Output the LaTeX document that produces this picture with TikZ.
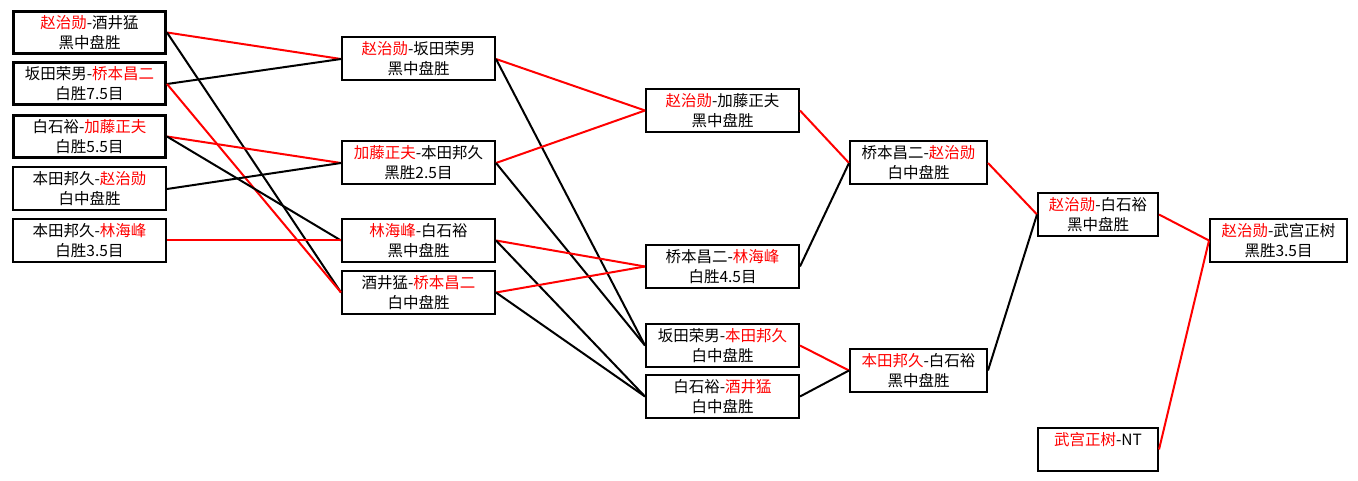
\documentclass[tikz,border=0pt]{standalone}
\usepackage{fontspec}
\newfontfamily\cjk{Noto Sans CJK SC}
\newcommand{\won}[1]{\textcolor{red}{#1}}

\begin{document}
\begin{tikzpicture}[x=1pt, y=-1pt,
  match/.style={draw, line width=2pt, align=center, font=\cjk\fontsize{15.5}{20}\selectfont, minimum width=153pt, minimum height=43pt, inner sep=0pt},
  seed/.style={match, line width=3pt, minimum width=152pt, minimum height=42pt},
  short/.style={match, minimum width=137pt},
  shorter/.style={match, minimum width=120pt},
  win/.style={draw=red, line width=2pt},
  lose/.style={draw=black, line width=2pt}
]
\fill[white] (0,0) rectangle (1358,481);
\useasboundingbox (0,0) rectangle (1358,481);

% first round
\node[seed] (zhaoSakai) at (89.5,32.5) {\won{赵治勋}-酒井猛\\黑中盘胜};
\node[seed] (sakataHashimoto) at (89.5,84) {坂田荣男-\won{桥本昌二}\\白胜7.5目};
\node[seed] (shiraishiKato) at (89.5,136.5) {白石裕-\won{加藤正夫}\\白胜5.5目};
\node[match] (hondaZhao) at (89.5,189) {本田邦久-\won{赵治勋}\\白中盘胜};
\node[match] (hondaRin) at (89.5,240.5) {本田邦久-\won{林海峰}\\白胜3.5目};

% second round
\node[match] (zhaoSakata) at (418.5,59) {\won{赵治勋}-坂田荣男\\黑中盘胜};
\node[match] (katoHonda) at (418.5,163) {\won{加藤正夫}-本田邦久\\黑胜2.5目};
\node[match] (rinShiraishi) at (418.5,240.5) {\won{林海峰}-白石裕\\黑中盘胜};
\node[match] (sakaiHashimoto) at (418.5,292.5) {酒井猛-\won{桥本昌二}\\白中盘胜};

% third round
\node[match] (zhaoKato) at (722.5,110.5) {\won{赵治勋}-加藤正夫\\黑中盘胜};
\node[match] (hashimotoRin) at (722.5,266.5) {桥本昌二-\won{林海峰}\\白胜4.5目};
\node[match] (sakataHonda) at (722.5,345.5) {坂田荣男-\won{本田邦久}\\白中盘胜};
\node[match] (shiraishiSakai) at (722.5,396.5) {白石裕-\won{酒井猛}\\白中盘胜};

% fourth round
\node[short] (hashimotoZhao) at (918.5,163) {桥本昌二-\won{赵治勋}\\白中盘胜};
\node[short] (hondaShiraishi) at (918.5,370.5) {\won{本田邦久}-白石裕\\黑中盘胜};

% semi and final
\node[shorter] (zhaoShiraishi) at (1098,214.5) {\won{赵治勋}-白石裕\\黑中盘胜};
\node[shorter] (takemiya) at (1098,449.5) {\won{武宫正树}-NT\\\phantom{黑}};
\node[short] (zhaoTakemiya) at (1278.5,240.5) {\won{赵治勋}-武宫正树\\黑胜3.5目};

\draw[win] (zhaoSakai.east) -- (zhaoSakata.west);
\draw[lose] (zhaoSakai.east) -- (sakaiHashimoto.west);
\draw[lose] (sakataHashimoto.east) -- (zhaoSakata.west);
\draw[win] (sakataHashimoto.east) -- (sakaiHashimoto.west);
\draw[win] (shiraishiKato.east) -- (katoHonda.west);
\draw[lose] (shiraishiKato.east) -- (rinShiraishi.west);
\draw[lose] (hondaZhao.east) -- (katoHonda.west);
\draw[win] (hondaRin.east) -- (rinShiraishi.west);

\draw[win] (zhaoSakata.east) -- (zhaoKato.west);
\draw[lose] (zhaoSakata.east) -- (sakataHonda.west);
\draw[win] (katoHonda.east) -- (zhaoKato.west);
\draw[lose] (katoHonda.east) -- (sakataHonda.west);
\draw[win] (rinShiraishi.east) -- (hashimotoRin.west);
\draw[lose] (rinShiraishi.east) -- (shiraishiSakai.west);
\draw[win] (sakaiHashimoto.east) -- (hashimotoRin.west);
\draw[lose] (sakaiHashimoto.east) -- (shiraishiSakai.west);

\draw[win] (zhaoKato.east) -- (hashimotoZhao.west);
\draw[lose] (hashimotoRin.east) -- (hashimotoZhao.west);
\draw[win] (sakataHonda.east) -- (hondaShiraishi.west);
\draw[lose] (shiraishiSakai.east) -- (hondaShiraishi.west);

\draw[win] (hashimotoZhao.east) -- (zhaoShiraishi.west);
\draw[lose] (hondaShiraishi.east) -- (zhaoShiraishi.west);
\draw[win] (zhaoShiraishi.east) -- (zhaoTakemiya.west);
\draw[win] (takemiya.east) -- (zhaoTakemiya.west);
\end{tikzpicture}
\end{document}
